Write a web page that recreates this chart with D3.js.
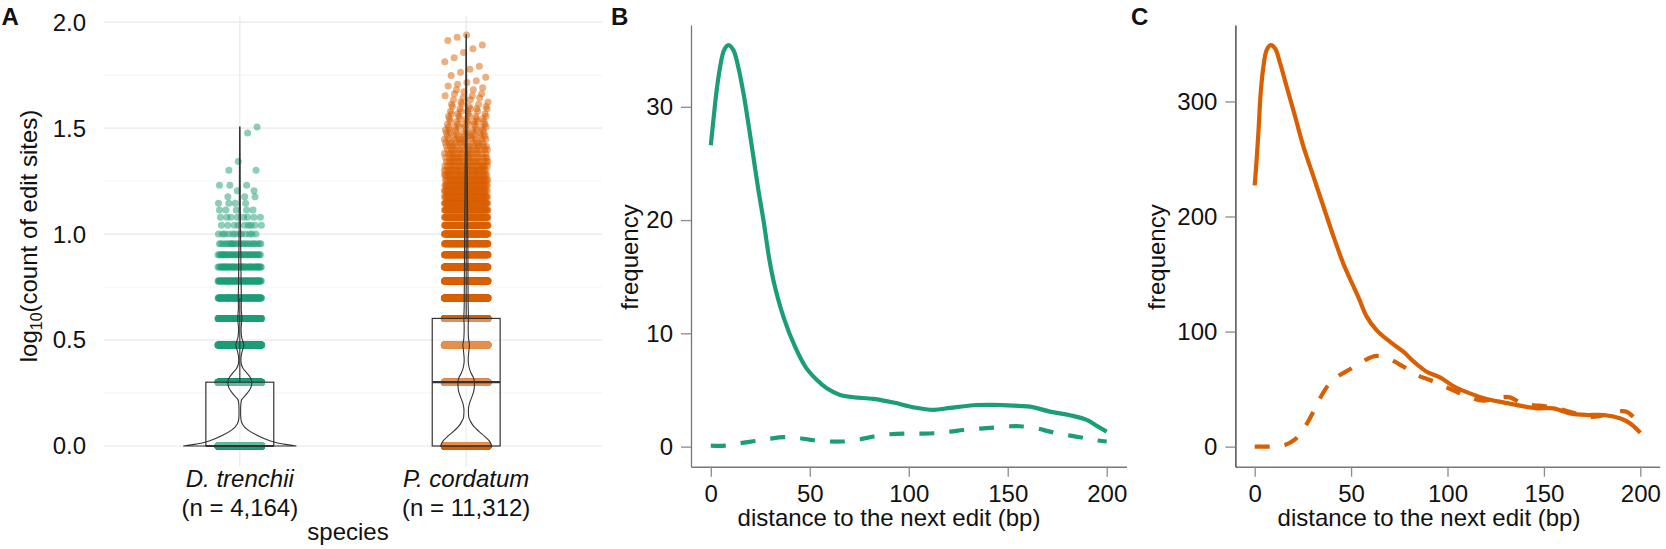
<!DOCTYPE html>
<html>
<head>
<meta charset="utf-8">
<script src="https://cdn.jsdelivr.net/npm/d3@7"></script>
<style>
  body { margin: 0; background: #fff; }
  svg { display: block; font-family: "Liberation Sans", Arial, Helvetica, sans-serif; }
</style>
</head>
<body>
<div id="chart"></div>
<script>
// ---------- data ----------
const species = ["D. trenchii", "P. cordatum"];
const sampleSizes = ["(n = 4,164)", "(n = 11,312)"];
const speciesColors = ["#1b9e77", "#d95f02"];

// panel A: number of genes (freq) having a given count of edit sites
const dtEditCounts = [1, 2, 3, 4, 5, 6, 7, 8, 9, 10, 11, 12, 13, 14, 15, 16, 17, 20, 22, 30, 32];
const dtFreq       = [2296, 880, 420, 210, 120, 80, 50, 35, 22, 12, 9, 8, 5, 4, 3, 2, 3, 2, 1, 1, 1];

const pcEditCounts = [1, 2, 3, 4, 5, 6, 7, 8, 9, 10, 11, 12, 13, 14, 15, 16, 17, 18, 19, 20,
  21, 22, 23, 24, 25, 26, 27, 28, 29, 30, 31, 32, 33, 34, 35, 36, 37, 38, 39, 40,
  41, 42, 43, 44, 45, 46, 47, 48, 49, 50, 51, 52, 53, 55, 56, 58, 60, 62, 65, 68,
  72, 75, 78, 82, 85, 87];
const pcFreq = [3618, 2300, 1450, 1150, 620, 430, 320, 240, 190, 150, 120, 100, 85, 72, 60, 50, 42, 36, 31, 27,
  22, 19, 17, 15, 13, 12, 11, 10, 9, 8, 7, 7, 6, 6, 5, 5, 4, 4, 4, 3,
  3, 2, 2, 2, 2, 2, 1, 2, 1, 1, 1, 1, 1, 1, 1, 1, 1, 1, 1, 1,
  1, 1, 1, 1, 1, 1];

// violin outlines (log10 value, relative half width)
const dtViolinLevel = [0, 0.0094, 0.025, 0.052, 0.075, 0.103, 0.13, 0.16, 0.19, 0.217, 0.241, 0.272, 0.299,
  0.319, 0.343, 0.366, 0.39, 0.415, 0.445, 0.477, 0.51, 0.55, 0.602, 0.65, 0.7, 0.78, 0.85, 0.95, 1.05, 1.2, 1.35, 1.505];
const dtViolinWidth = [1, 0.764, 0.53, 0.295, 0.146, 0.047, 0.018, 0.014, 0.016, 0.03, 0.106, 0.189, 0.212,
  0.195, 0.129, 0.058, 0.023, 0.02, 0.04, 0.07, 0.035, 0.022, 0.036, 0.025, 0.027, 0.022, 0.02, 0.015, 0.012, 0.008, 0.006, 0.004];

const pcViolinLevel = [0, 0.0204, 0.044, 0.068, 0.0912, 0.115, 0.138, 0.17, 0.201, 0.233, 0.264, 0.296, 0.32,
  0.343, 0.374, 0.406, 0.453, 0.476, 0.508, 0.563, 0.602, 0.66, 0.75, 0.9, 1.0, 1.2, 1.4, 1.6, 1.8, 1.94];
const pcViolinWidth = [0.45, 0.418, 0.332, 0.229, 0.138, 0.079, 0.044, 0.039, 0.058, 0.102, 0.138, 0.146, 0.132,
  0.088, 0.048, 0.035, 0.049, 0.058, 0.041, 0.035, 0.041, 0.035, 0.033, 0.03, 0.028, 0.022, 0.015, 0.01, 0.006, 0.003];

// panels B and C: distance to the next edit (bp) vs frequency
const distTicks = [0, 50, 100, 150, 200];
const bFreqTicks = [0, 10, 20, 30];
const cFreqTicks = [0, 100, 200, 300];

const bSolidX = [0, 1.3, 3.0, 4.7, 6.7, 8.9, 11.4, 13.9, 16.5, 19.0, 21.5, 24.0, 26.6, 29.6, 32, 37, 42.6, 48, 53.5,
  58.6, 65.3, 72.1, 82.2, 92.3, 102.4, 112.5, 120.9, 132.7, 142.8, 152.9, 161.3, 171.4, 181.5, 189.9, 195, 200];
const bSolidY = [26.6, 28.8, 31.5, 33.5, 35.0, 35.45, 35.0, 33.5, 31.2, 28.5, 25.6, 22.7, 20.0, 16.5, 14.4, 11.3, 8.8, 7.0, 5.9,
  5.15, 4.56, 4.36, 4.21, 3.89, 3.47, 3.24, 3.42, 3.65, 3.68, 3.62, 3.53, 3.09, 2.77, 2.36, 1.83, 1.32];
const bDashedX = [0, 7.2, 14.8, 22.4, 30, 37.1, 45.2, 51.9, 60.3, 66.2, 75.4, 82.2, 90.6, 97.4, 105.8, 112.5,
  120.9, 127.6, 136, 142.8, 151.2, 156.2, 164.6, 171.4, 179.8, 186.5, 193.3, 200];
const bDashedY = [0.09, 0.09, 0.3, 0.5, 0.71, 0.83, 0.74, 0.56, 0.45, 0.45, 0.65, 0.89, 1.09, 1.15, 1.15, 1.18,
  1.32, 1.47, 1.59, 1.68, 1.80, 1.80, 1.62, 1.32, 1.03, 0.83, 0.59, 0.45];

const cSolidX = [0, 1.0, 2.1, 3.1, 4.5, 6.2, 8.3, 10.6, 13.2, 16.6, 21, 25.3, 30.5, 35.7, 40.9, 46, 50.5, 54, 58.1,
  63.2, 70.1, 77.1, 83.1, 89.2, 96.1, 103, 111.6, 120.3, 128.9, 137.6, 146.2, 154.9, 163.5, 172.1, 180.8, 189.4, 194.6, 200];
const cSolidY = [227, 249, 278, 307, 330, 344.7, 349, 346, 333, 312.8, 286.7, 260.7, 234.6, 208.5, 182.5, 159, 142, 129, 113,
  101.3, 91.2, 82.5, 73, 65.1, 60.2, 52.7, 46.3, 41.4, 38.5, 35.6, 33.3, 33.3, 28.9, 27.5, 27.5, 24.6, 20.3, 12.1];
const cDashedX = [0, 7.6, 13, 15.7, 20.9, 26.1, 30.4, 33.9, 38.2, 43.4, 49.4, 56.3, 63.2, 70.1, 77.1, 84, 90.9,
  97.8, 104.7, 111.6, 118.5, 124, 127.2, 132.4, 139.3, 147.9, 156.6, 165.2, 173.9, 179, 184, 187.7, 192.9, 199.8];
const cDashedY = [0, 0, 0.5, 1.4, 6.3, 17.3, 30.3, 42, 53.5, 61.4, 67.2, 74.4, 78.8, 75.9, 69.5, 62.3, 57.9,
  52.7, 47.7, 42.8, 39.9, 41.5, 42.8, 42.8, 37, 35.6, 33.3, 29.5, 26, 26.6, 28.5, 30.3, 30.3, 19.6];

// ---------- drawing ----------
const width = 1666, height = 549;
const svg = d3.select("#chart").append("svg")
  .attr("width", width)
  .attr("height", height);

const FONT = 24;

function label(x, y, txt, opts = {}) {
  const t = svg.append("text")
    .attr("x", x)
    .attr("y", y)
    .attr("text-anchor", opts.anchor || "middle")
    .style("font-size", (opts.size || FONT) + "px")
    .style("fill", "#111")
    .text(txt);
  if (opts.bold) t.style("font-weight", "bold");
  if (opts.italic) t.style("font-style", "italic");
  if (opts.rotate) t.attr("transform", `rotate(-90, ${x}, ${y})`);
  return t;
}

// ===== Panel A =====
const xA = d3.scalePoint().domain(species).range([104, 602]).padding(0.6);
const yA = d3.scaleLinear().domain([0, 2]).range([446, 22.2]);
const step = xA.step();

const gA = svg.append("g");
const majorA = [0, 0.5, 1, 1.5, 2];
const minorA = [0.25, 0.75, 1.25, 1.75];

gA.selectAll("line.minor").data(minorA).enter().append("line")
  .attr("x1", 104).attr("x2", 602)
  .attr("y1", d => yA(d)).attr("y2", d => yA(d))
  .attr("stroke", "#f0f0f0").attr("stroke-width", 0.8);
gA.selectAll("line.major").data(majorA).enter().append("line")
  .attr("x1", 104).attr("x2", 602)
  .attr("y1", d => yA(d)).attr("y2", d => yA(d))
  .attr("stroke", "#e8e8e8").attr("stroke-width", 1.2);
gA.selectAll("line.vmajor").data(species).enter().append("line")
  .attr("x1", d => xA(d)).attr("x2", d => xA(d))
  .attr("y1", 16).attr("y2", 466.5)
  .attr("stroke", "#e8e8e8").attr("stroke-width", 1.2);

gA.selectAll("text.ytick").data(majorA).enter().append("text")
  .attr("x", 86)
  .attr("y", d => yA(d))
  .attr("dy", "0.35em")
  .attr("text-anchor", "end")
  .style("font-size", FONT + "px")
  .style("fill", "#111")
  .text(d => d.toFixed(1));

const groups = [
  { name: species[0], levels: dtEditCounts, freq: dtFreq, vLevel: dtViolinLevel, vWidth: dtViolinWidth, color: speciesColors[0] },
  { name: species[1], levels: pcEditCounts, freq: pcFreq, vLevel: pcViolinLevel, vWidth: pcViolinWidth, color: speciesColors[1] }
];

// jitter: a fixed golden-ratio spread inside +-0.1 of a category step
const jitter = d3.scaleLinear().domain([0, 1]).range([-0.097 * step, 0.097 * step]);
const PHI = 0.6180339887498949;

groups.forEach(g => {
  const cx = xA(g.name);
  const pts = [];
  g.levels.forEach((k, li) => {
    for (let j = 0; j < g.freq[li]; j++) {
      const u = ((j + 1) * PHI + li * 0.2137) % 1;
      pts.push({ x: cx + jitter(u), y: yA(Math.log10(k)) });
    }
  });
  gA.append("g").selectAll("circle").data(pts).enter().append("circle")
    .attr("cx", d => d.x)
    .attr("cy", d => d.y)
    .attr("r", 3.5)
    .attr("fill", g.color)
    .attr("fill-opacity", 0.5);
});

groups.forEach(g => {
  const cx = xA(g.name);
  const values = [];
  g.levels.forEach((k, li) => { for (let j = 0; j < g.freq[li]; j++) values.push(Math.log10(k)); });
  values.sort(d3.ascending);
  const q1 = d3.quantile(values, 0.25), med = d3.quantile(values, 0.5), q3 = d3.quantile(values, 0.75);
  const iqr = q3 - q1;
  const hiW = d3.max(values.filter(v => v <= q3 + 1.5 * iqr));
  const loW = d3.min(values.filter(v => v >= q1 - 1.5 * iqr));
  const bw = 0.3 * step;

  gA.append("line")
    .attr("x1", cx).attr("x2", cx).attr("y1", yA(q3)).attr("y2", yA(hiW))
    .attr("stroke", "#333").attr("stroke-width", 1.1);
  gA.append("line")
    .attr("x1", cx).attr("x2", cx).attr("y1", yA(q1)).attr("y2", yA(loW))
    .attr("stroke", "#333").attr("stroke-width", 1.1);
  gA.append("rect")
    .attr("x", cx - bw / 2).attr("width", bw)
    .attr("y", yA(q3)).attr("height", Math.max(0, yA(q1) - yA(q3)))
    .attr("fill", "#fff").attr("fill-opacity", 0.3)
    .attr("stroke", "#333").attr("stroke-width", 1.2);
  gA.append("line")
    .attr("x1", cx - bw / 2).attr("x2", cx + bw / 2)
    .attr("y1", yA(med)).attr("y2", yA(med))
    .attr("stroke", "#333").attr("stroke-width", 2.2);
});

const vWidth = d3.scaleLinear().domain([0, 1]).range([0, 0.25 * step]);
groups.forEach(g => {
  const cx = xA(g.name);
  const prof = g.vLevel.map((v, i) => ({ v, w: g.vWidth[i] }));
  const area = d3.area()
    .y(d => yA(d.v))
    .x0(d => cx - vWidth(d.w))
    .x1(d => cx + vWidth(d.w))
    .curve(d3.curveMonotoneY);
  gA.append("path")
    .attr("d", area(prof))
    .attr("fill", "none")
    .attr("stroke", "#333")
    .attr("stroke-width", 1.1);
});

species.forEach((s, i) => {
  label(xA(s), 487, s, { italic: true });
  label(xA(s), 516, sampleSizes[i]);
});
label(348, 540, "species");

const yTitle = svg.append("text")
  .attr("transform", "translate(36.5, 236) rotate(-90)")
  .attr("text-anchor", "middle")
  .style("font-size", FONT + "px")
  .style("fill", "#111");
yTitle.append("tspan").text("log");
yTitle.append("tspan").attr("dy", 5).style("font-size", "16px").text("10");
yTitle.append("tspan").attr("dy", -5).text("(count of edit sites)");

label(1.5, 25, "A", { anchor: "start", bold: true });

// ===== Panels B and C =====
function densityPanel(p) {
  const yMax = d3.max(p.solidY.concat(p.dashedY));
  const x = d3.scaleLinear().domain([-10, 210]).range([p.left, p.right]);
  const y = d3.scaleLinear().domain([-0.05 * yMax, 1.05 * yMax]).range([466.7, 25]);
  const g = svg.append("g");

  const ax = g.append("g")
    .attr("transform", "translate(0,466.7)")
    .call(d3.axisBottom(x).tickValues(distTicks).tickSize(10).tickPadding(8).tickSizeOuter(0));
  const ay = g.append("g")
    .attr("transform", `translate(${p.left},0)`)
    .call(d3.axisLeft(y).tickValues(p.yTicks).tickSize(10).tickPadding(8).tickSizeOuter(0));

  [ax, ay].forEach(a => {
    a.attr("font-family", null).attr("font-size", null);
    a.selectAll(".tick line").attr("stroke", "#8a8a8a").attr("stroke-width", 1.3);
    a.selectAll(".tick text").style("font-size", FONT + "px").attr("fill", "#111");
  });
  ax.select(".domain").attr("stroke", "#777").attr("stroke-width", 1.4);
  ay.select(".domain").attr("stroke", p.yAxisColor).attr("stroke-width", 1.3);

  const line = d3.line()
    .x(d => x(d[0]))
    .y(d => y(d[1]))
    .curve(d3.curveCatmullRom.alpha(0.5));

  g.append("path")
    .attr("d", line(p.dashedX.map((v, i) => [v, p.dashedY[i]])))
    .attr("fill", "none")
    .attr("stroke", p.color)
    .attr("stroke-width", 4.2)
    .attr("stroke-dasharray", "15,15");
  g.append("path")
    .attr("d", line(p.solidX.map((v, i) => [v, p.solidY[i]])))
    .attr("fill", "none")
    .attr("stroke", p.color)
    .attr("stroke-width", 4.2);

  label(p.titleX, 526, "distance to the next edit (bp)");
  label(p.freqX, 257, "frequency", { rotate: true });
  label(p.tagX, 24.5, p.tag, { anchor: "start", bold: true });
}

densityPanel({
  left: 691, right: 1126.5, yTicks: bFreqTicks, color: speciesColors[0], yAxisColor: "#777",
  solidX: bSolidX, solidY: bSolidY, dashedX: bDashedX, dashedY: bDashedY,
  titleX: 889, freqX: 638, tagX: 611, tag: "B"
});
densityPanel({
  left: 1235.4, right: 1659.6, yTicks: cFreqTicks, color: speciesColors[1], yAxisColor: "#333",
  solidX: cSolidX, solidY: cSolidY, dashedX: cDashedX, dashedY: cDashedY,
  titleX: 1429, freqX: 1165, tagX: 1131, tag: "C"
});
</script>
</body>
</html>
